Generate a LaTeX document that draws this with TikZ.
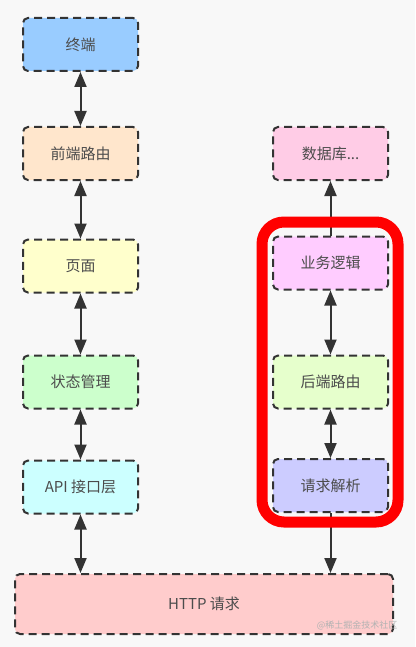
\documentclass[tikz,border=0pt]{standalone}
\usepackage{fontspec}
\newfontfamily\cjk{Noto Sans CJK SC}
\usetikzlibrary{arrows.meta}

\definecolor{fondo}{HTML}{F8F8F8}
\definecolor{linea}{HTML}{333333}
\definecolor{cTerm}{HTML}{99CCFF}
\definecolor{cRuta}{HTML}{FFE6CC}
\definecolor{cPag}{HTML}{FFFFCC}
\definecolor{cEst}{HTML}{CCFFCC}
\definecolor{cApi}{HTML}{CCFFFF}
\definecolor{cHttp}{HTML}{FFCCCC}
\definecolor{cDb}{HTML}{FFCCE6}
\definecolor{cNeg}{HTML}{FFCCFF}
\definecolor{cBack}{HTML}{E6FFCC}
\definecolor{cReq}{HTML}{CCCCFF}

\tikzset{
    caja/.style={draw=linea, line width=2pt, dash pattern=on 8pt off 5pt,
        rounded corners=5pt, minimum width=115pt, minimum height=53pt,
        font=\cjk\fontsize{15}{17}\selectfont, text=black!70},
    flecha/.style={line width=2pt, draw=linea,
        {Triangle[width=12pt,length=15pt]}-{Triangle[width=12pt,length=15pt]}},
    ida/.style={line width=2pt, draw=linea, -{Triangle[width=12pt,length=15pt]}}
}

\begin{document}
\begin{tikzpicture}[x=1pt, y=-1pt]
    \fill[fondo] (0,0) rectangle (415,647);
    \useasboundingbox (0,0) rectangle (415,647);

    % Columna izquierda (cliente)
    \node[caja, fill=cTerm] (term)  at (80.5,44.5) {终端};
    \node[caja, fill=cRuta] (front) at (80.5,153.5) {前端路由};
    \node[caja, fill=cPag]  (pag)   at (80.5,266) {页面};
    \node[caja, fill=cEst]  (est)   at (80.5,382) {状态管理};
    \node[caja, fill=cApi]  (api)   at (80.5,487) {API 接口层};

    % Columna derecha (servidor)
    \node[caja, fill=cDb]   (db)    at (330.5,153.5) {数据库...};
    \node[caja, fill=cNeg]  (neg)   at (330.5,263) {业务逻辑};
    \node[caja, fill=cBack] (back)  at (330.5,382) {后端路由};
    \node[caja, fill=cReq]  (req)   at (330.5,485.5) {请求解析};

    % HTTP abajo
    \node[caja, fill=cHttp, minimum width=378pt, minimum height=60pt] (http) at (204,604) {HTTP 请求};

    % Flechas
    \draw[flecha] (term) -- (front);
    \draw[flecha] (front) -- (pag);
    \draw[flecha] (pag) -- (est);
    \draw[flecha] (est) -- (api);
    \draw[flecha] (api.south) -- (api.south |- http.north);

    \draw[ida] (neg) -- (db);
    \draw[flecha] (neg) -- (back);
    \draw[flecha] (back) -- (req);
    \draw[ida] (req.south) -- (req.south |- http.north);

    % Marco rojo
    \draw[red, line width=11pt, rounded corners=22pt] (262,222) rectangle (398,522);

    \node[font=\cjk\fontsize{9}{10}\selectfont, text=black!30, anchor=east] (marca) at (401,625) {@稀土掘金技术社区};
\end{tikzpicture}
\end{document}
